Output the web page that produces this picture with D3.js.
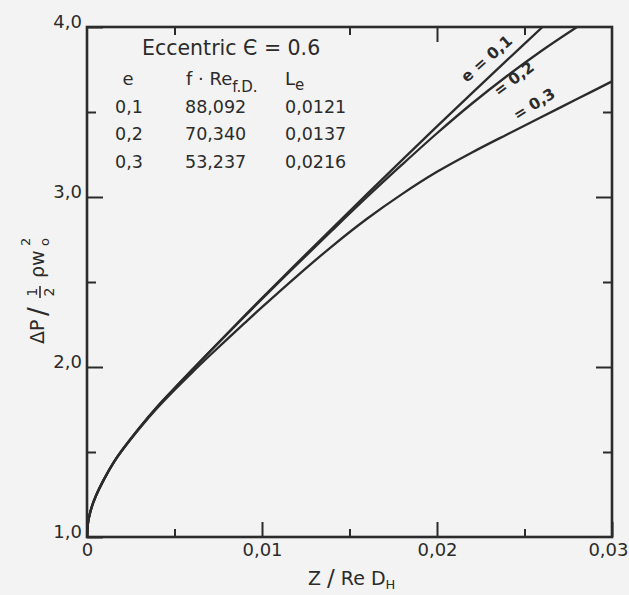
<!DOCTYPE html>
<html>
<head>
<meta charset="utf-8">
<script src="https://cdn.jsdelivr.net/npm/d3@7"></script>
<style>
  html, body { margin: 0; padding: 0; background: #f3f3f3; }
  svg { display: block; }
  text { font-family: "DejaVu Sans", sans-serif; fill: #2b2b2b; }
</style>
</head>
<body>
<svg id="chart" width="629" height="595"></svg>
<script>
// ---- data ----
const xMajorTicks = [0, 0.01, 0.02, 0.03];
const xMajorLabels = ["0", "0,01", "0,02", "0,03"];
const xMinorTicks = [0.005, 0.015, 0.025];
const topMajorTicks = [0.02];
const topMinorTicks = [0.005, 0.015, 0.025];
const yMajorTicks = [1, 2, 3, 4];
const yMajorLabels = ["1,0", "2,0", "3,0", "4,0"];
const yMinorTicks = [1.5, 2.5, 3.5];
const yRightMajor = [2, 3];

const e01X = [0, 0.00005, 0.0001, 0.00025, 0.0005, 0.001, 0.0015, 0.002, 0.003, 0.004, 0.005, 0.006, 0.007, 0.008, 0.009, 0.010, 0.012, 0.014, 0.016, 0.018, 0.020, 0.022, 0.024, 0.026, 0.02603];
const e01Y = [1.0, 1.076, 1.108, 1.17, 1.24, 1.345, 1.435, 1.51, 1.643, 1.765, 1.875, 1.983, 2.09, 2.196, 2.301, 2.405, 2.611, 2.815, 3.017, 3.217, 3.415, 3.611, 3.805, 3.997, 4.0];

const e02X = [0, 0.00005, 0.0001, 0.00025, 0.0005, 0.001, 0.0015, 0.002, 0.003, 0.004, 0.005, 0.006, 0.007, 0.008, 0.009, 0.010, 0.012, 0.014, 0.016, 0.018, 0.020, 0.022, 0.024, 0.026, 0.028];
const e02Y = [1.0, 1.076, 1.108, 1.17, 1.24, 1.345, 1.435, 1.51, 1.643, 1.765, 1.875, 1.982, 2.088, 2.193, 2.297, 2.4, 2.603, 2.803, 3.0, 3.19, 3.375, 3.55, 3.712, 3.862, 4.0];

const e03X = [0, 0.00005, 0.0001, 0.00025, 0.0005, 0.001, 0.0015, 0.002, 0.003, 0.004, 0.005, 0.006, 0.007, 0.008, 0.009, 0.010, 0.012, 0.014, 0.016, 0.018, 0.020, 0.022, 0.024, 0.026, 0.028, 0.030];
const e03Y = [1.0, 1.076, 1.108, 1.17, 1.24, 1.345, 1.435, 1.508, 1.638, 1.757, 1.865, 1.967, 2.066, 2.163, 2.258, 2.352, 2.535, 2.71, 2.872, 3.017, 3.148, 3.262, 3.368, 3.472, 3.576, 3.68];

const tableHeader = ["e", "f · Re", "L"];
const tableE = ["0,1", "0,2", "0,3"];
const tableFRe = ["88,092", "70,340", "53,237"];
const tableLe = ["0,0121", "0,0137", "0,0216"];
const curveLabels = ["e = 0,1", "= 0,2", "= 0,3"];

// ---- layout ----
const svg = d3.select("#chart");
const ink = "#2b2b2b";
const x = d3.scaleLinear().domain([0, 0.03]).range([87, 612]);
const y = d3.scaleLinear().domain([1, 4]).range([537, 27]);

svg.append("rect").attr("width", 629).attr("height", 595).attr("fill", "#f3f3f3");

svg.append("clipPath").attr("id", "clip")
  .append("rect").attr("x", x(0)).attr("y", y(4)).attr("width", x(0.03) - x(0)).attr("height", y(1) - y(4));

// curves
const line = d3.line().x(d => x(d[0])).y(d => y(d[1])).curve(d3.curveCatmullRom.alpha(0.5));
const series = [[e01X, e01Y], [e02X, e02Y], [e03X, e03Y]];
const g = svg.append("g").attr("clip-path", "url(#clip)");
series.forEach(([xs, ys]) => {
  g.append("path")
    .datum(xs.map((v, i) => [v, ys[i]]))
    .attr("d", line)
    .attr("fill", "none")
    .attr("stroke", ink)
    .attr("stroke-width", 2.3)
    .attr("stroke-linejoin", "round");
});

// axes (ticks pointing inward)
function styleAxis(sel) {
  sel.select(".domain").remove();
  sel.selectAll(".tick line").attr("stroke", ink).attr("stroke-width", 2);
  sel.selectAll("text").style("font-size", "18px").attr("fill", ink);
}
// bottom
const bottom = svg.append("g").attr("transform", `translate(0,${y(1)})`)
  .call(d3.axisBottom(x).tickValues(xMajorTicks).tickSize(-15).tickPadding(6)
    .tickFormat((d, i) => xMajorLabels[i]))
  .call(styleAxis);
bottom.selectAll(".tick").filter(d => d === 0.03).select("text")
  .attr("text-anchor", "end").attr("x", 16);
svg.append("g").attr("transform", `translate(0,${y(1)})`)
  .call(d3.axisBottom(x).tickValues(xMinorTicks).tickSize(-8).tickFormat(""))
  .call(styleAxis);
// top
svg.append("g").attr("transform", `translate(0,${y(4)})`)
  .call(d3.axisTop(x).tickValues(topMajorTicks).tickSize(-15).tickFormat(""))
  .call(styleAxis);
svg.append("g").attr("transform", `translate(0,${y(4)})`)
  .call(d3.axisTop(x).tickValues(topMinorTicks).tickSize(-8).tickFormat(""))
  .call(styleAxis);
// left
const left = svg.append("g").attr("transform", `translate(${x(0)},0)`)
  .call(d3.axisLeft(y).tickValues(yMajorTicks).tickSize(-16).tickPadding(6)
    .tickFormat((d, i) => yMajorLabels[i]))
  .call(styleAxis);
left.selectAll("text").attr("dy", "0.05em").attr("x", -5);
svg.append("g").attr("transform", `translate(${x(0)},0)`)
  .call(d3.axisLeft(y).tickValues(yMinorTicks).tickSize(-9).tickFormat(""))
  .call(styleAxis);
// right
svg.append("g").attr("transform", `translate(${x(0.03)},0)`)
  .call(d3.axisRight(y).tickValues(yRightMajor).tickSize(-16).tickFormat(""))
  .call(styleAxis);
svg.append("g").attr("transform", `translate(${x(0.03)},0)`)
  .call(d3.axisRight(y).tickValues(yMinorTicks).tickSize(-9).tickFormat(""))
  .call(styleAxis);

// frame
svg.append("rect")
  .attr("x", x(0)).attr("y", y(4))
  .attr("width", x(0.03) - x(0)).attr("height", y(1) - y(4))
  .attr("fill", "none").attr("stroke", ink).attr("stroke-width", 2.6);

// header + table
svg.append("text").attr("x", 142).attr("y", 55).style("font-size", "20.5px")
  .text("Eccentric Є = 0.6");

const hdr = svg.append("g").style("font-size", "18px");
hdr.append("text").attr("x", 128).attr("y", 85).attr("text-anchor", "middle").text(tableHeader[0]);
const fre = hdr.append("text").attr("x", 186).attr("y", 85);
fre.append("tspan").text(tableHeader[1]);
fre.append("tspan").attr("dy", 7).style("font-size", "15px").text("f.D.");
const le = hdr.append("text").attr("x", 285).attr("y", 85);
le.append("tspan").text(tableHeader[2]);
le.append("tspan").attr("dy", 5).style("font-size", "15px").text("e");

const rowY = [113, 140, 168];
const tbl = svg.append("g").style("font-size", "17.5px");
tableE.forEach((t, i) => tbl.append("text").attr("x", 115).attr("y", rowY[i]).text(t));
tableFRe.forEach((t, i) => tbl.append("text").attr("x", 185).attr("y", rowY[i]).text(t));
tableLe.forEach((t, i) => tbl.append("text").attr("x", 285).attr("y", rowY[i]).text(t));

// curve labels
const labelPos = [[0.02303, 3.79, -41], [0.02457, 3.67, -37], [0.02571, 3.52, -32]];
labelPos.forEach((p, i) => {
  svg.append("text")
    .attr("transform", `translate(${x(p[0])},${y(p[1])}) rotate(${p[2]})`)
    .attr("text-anchor", "middle")
    .style("font-size", "15.5px").style("font-weight", "bold")
    .text(curveLabels[i]);
});

// x-axis title
const xt = svg.append("text").attr("x", 308).attr("y", 585).style("font-size", "19px");
xt.append("tspan").text("Z ");
xt.append("tspan").style("font-size", "23px").attr("dy", 1).text("/");
xt.append("tspan").attr("dy", -1).text(" Re D");
xt.append("tspan").attr("dy", 4).style("font-size", "13px").text("H");

// y-axis title (rotated)
const yt = svg.append("g").attr("transform", "translate(37,287) rotate(-90)");
yt.append("text").attr("x", -57).attr("y", 7).style("font-size", "19px").text("ΔP");
yt.append("text").attr("x", -29).attr("y", 10).style("font-size", "26px").text("/");
yt.append("text").attr("x", -5).attr("y", 0).attr("text-anchor", "middle").style("font-size", "14px").text("1");
yt.append("line").attr("x1", -11).attr("x2", 1).attr("y1", 3).attr("y2", 3).attr("stroke", ink).attr("stroke-width", 1.6);
yt.append("text").attr("x", -5).attr("y", 17).attr("text-anchor", "middle").style("font-size", "14px").text("2");
yt.append("text").attr("x", 9).attr("y", 7).style("font-size", "19px").text("ρw");
yt.append("text").attr("x", 41).attr("y", -7).style("font-size", "13px").text("2");
yt.append("text").attr("x", 41).attr("y", 12).style("font-size", "13px").text("o");
</script>
</body>
</html>
